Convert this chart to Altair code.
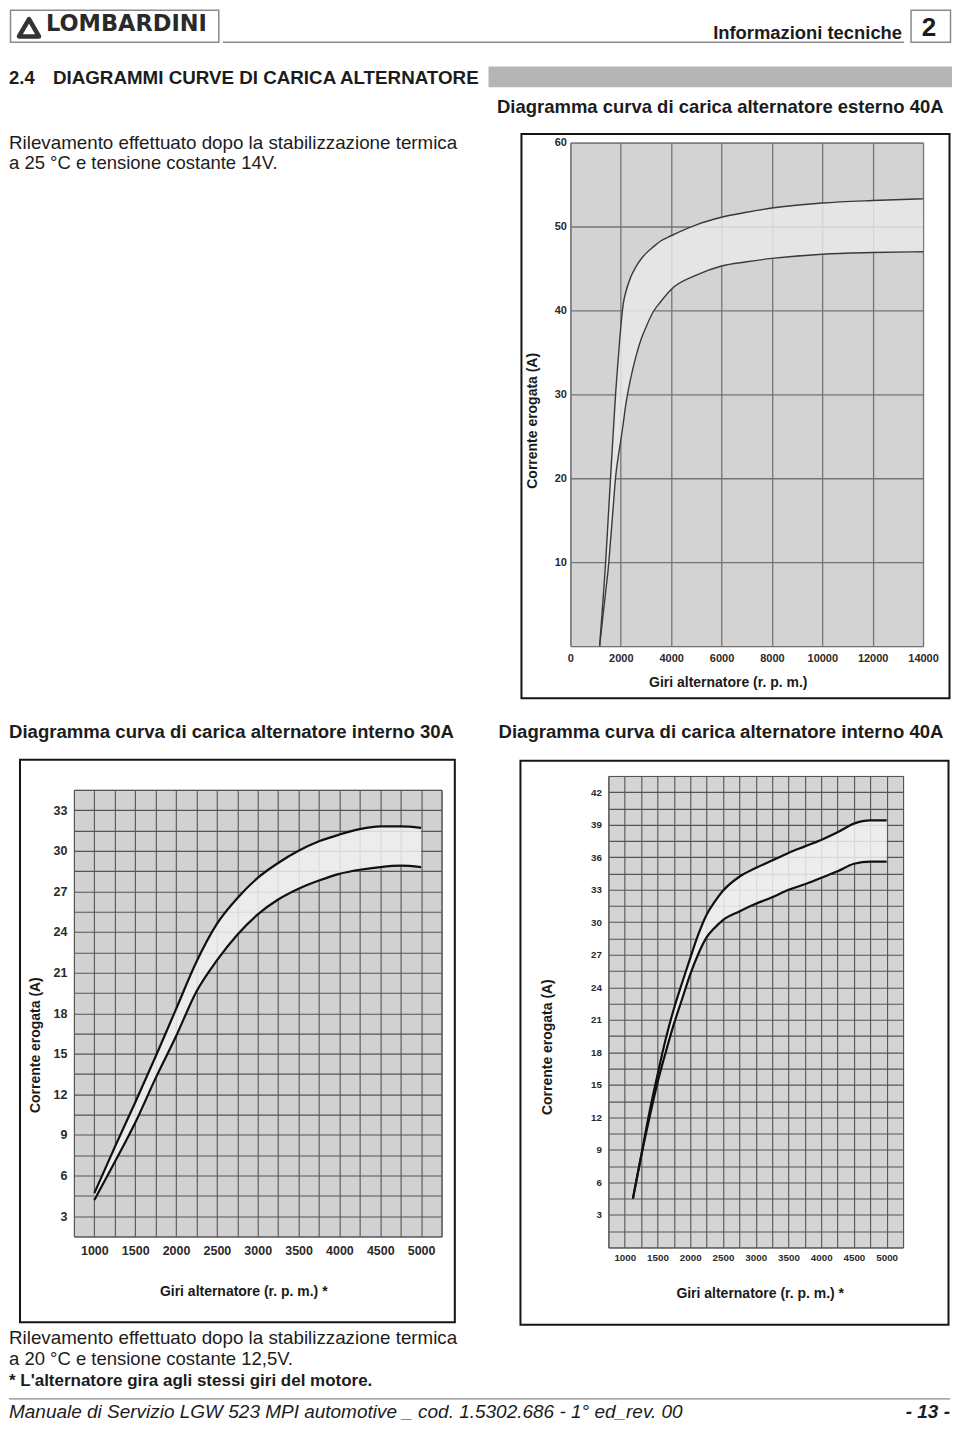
import altair as alt
import pandas as pd

FONT = "Liberation Sans"

# ---------------- data ----------------
# Diagramma esterno 40A
TOP_RPM = [1160, 1300, 1400, 1500, 1600, 1700, 1800, 1900, 2000, 2100, 2200, 2400, 2600,
           2800, 3000, 3300, 3600, 4000, 5000, 6000, 7000, 8000, 10000, 12000, 14000]
TOP_UPPER = [0, 5.7, 10.0, 15.2, 20.4, 25.4, 30.3, 34.3, 38.0, 40.8, 42.2, 44.0, 45.2,
             46.1, 46.8, 47.6, 48.3, 48.9, 50.2, 51.1, 51.7, 52.2, 52.8, 53.1, 53.3]
TOP_LOWER = [0, 3.8, 6.5, 9.2, 12.8, 16.6, 20.3, 22.6, 24.5, 26.6, 28.8, 32.0, 34.5,
             36.5, 38.0, 39.9, 41.1, 42.5, 44.2, 45.3, 45.8, 46.2, 46.7, 46.9, 47.0]
TOP_X_TICKS = [0, 2000, 4000, 6000, 8000, 10000, 12000, 14000]
TOP_Y_TICKS = [0, 10, 20, 30, 40, 50, 60]

# Diagramma interno 30A
BL_RPM = [1000, 1250, 1500, 1750, 2000, 2250, 2500, 2750, 3000, 3250, 3500, 3750, 4000,
          4250, 4500, 4750, 5000]
BL_UPPER = [4.7, 8.1, 11.4, 14.8, 18.3, 21.8, 24.6, 26.5, 28.0, 29.1, 30.0, 30.7, 31.2,
            31.6, 31.8, 31.8, 31.7]
BL_LOWER = [4.2, 7.0, 9.9, 13.2, 16.3, 19.6, 21.9, 23.8, 25.3, 26.4, 27.2, 27.8, 28.3,
            28.6, 28.8, 28.9, 28.8]

# Diagramma interno 40A
BR_RPM = [1125, 1250, 1375, 1500, 1625, 1750, 1875, 2000, 2125, 2250, 2375, 2500, 2750,
          3000, 3250, 3500, 3750, 4000, 4250, 4500, 4750, 5000]
BR_UPPER = [4.5, 8.4, 12.4, 15.9, 19.2, 22.0, 24.4, 26.7, 28.9, 30.7, 31.9, 32.9, 34.2,
            35.0, 35.7, 36.4, 37.0, 37.6, 38.3, 39.1, 39.4, 39.4]
BR_LOWER = [4.5, 8.4, 11.9, 15.2, 18.0, 20.6, 22.9, 25.2, 27.1, 28.6, 29.5, 30.2, 31.0,
            31.7, 32.3, 33.0, 33.5, 34.1, 34.7, 35.4, 35.6, 35.6]

BOTTOM_X_GRID = list(range(750, 5251, 250))
BL_Y_GRID = [i * 1.5 for i in range(1, 24)]
BR_Y_GRID = [i * 1.5 for i in range(0, 30)]

X_TITLE_TOP = "Giri alternatore (r. p. m.)"
X_TITLE_BOTTOM = "Giri alternatore (r. p. m.) *"
Y_TITLE = "Corrente erogata (A)"

ONE = pd.DataFrame({"k": [0]})
W = 944  # usable width of the page body


def panel(rpm, upper, lower, xdom, ydom, xvals, yvals, xexpr, yexpr, w, h, xtitle,
          xt, yt, frame, lab_size, xpad, ypad, bg, grid_color, grid_w,
          line_color, line_w, band_color):
    df = pd.DataFrame({"rpm": rpm, "upper": upper, "lower": lower})
    xs = alt.Scale(domain=xdom, nice=False, zero=False)
    ys = alt.Scale(domain=ydom, nice=False, zero=False)
    common = dict(grid=True, gridColor=grid_color, gridWidth=grid_w, gridOpacity=1,
                  domain=False, ticks=False, tickSize=0, labelFont=FONT,
                  labelFontWeight="bold", labelFontSize=lab_size, labelColor="#2a2a2a",
                  labelOverlap=False, labelBound=False, labelFlush=False,
                  titleFont=FONT, titleFontWeight="bold", titleFontSize=14,
                  titleColor="#1a1a1a")
    xaxis = alt.Axis(values=xvals, labelExpr=xexpr, labelPadding=xpad, title=xtitle,
                     titleX=xt[0], titleY=xt[1], titleAlign="center",
                     titleBaseline="alphabetic", **common)
    yaxis = alt.Axis(values=yvals, labelExpr=yexpr, labelPadding=ypad, title=Y_TITLE,
                     titleX=yt[0], titleY=yt[1], titleAngle=270, titleAlign="center",
                     titleBaseline="middle", **common)
    xenc = alt.X("rpm:Q", scale=xs, axis=xaxis)
    base = alt.Chart(df)
    area = base.mark_area(color=band_color, opacity=0.85, interpolate="monotone").encode(
        x=xenc, y=alt.Y("upper:Q", scale=ys, axis=yaxis), y2="lower:Q")
    up = base.mark_line(color=line_color, strokeWidth=line_w, interpolate="monotone").encode(
        x=xenc, y=alt.Y("upper:Q", scale=ys, axis=yaxis))
    lo = base.mark_line(color=line_color, strokeWidth=line_w, interpolate="monotone").encode(
        x=xenc, y=alt.Y("lower:Q", scale=ys, axis=yaxis))
    box = alt.Chart(ONE).mark_rect(fillOpacity=0, stroke="#151515", strokeWidth=2).encode(
        x=alt.value(frame[0]), x2=alt.value(frame[1]),
        y=alt.value(frame[2]), y2=alt.value(frame[3]))
    return alt.layer(box, area, up, lo).properties(
        width=w, height=h,
        view=alt.ViewBackground(fill=bg, stroke=grid_color, strokeWidth=1),
    )


top = panel(TOP_RPM, TOP_UPPER, TOP_LOWER, [0, 14000], [0, 60], TOP_X_TICKS, TOP_Y_TICKS,
            "format(datum.value, 'd')",
            "datum.value == 0 ? '' : format(datum.value, 'd')",
            353, 504, X_TITLE_TOP, (157.5, 40), (-38, 278), (-49, 379.5, -8.7, 556.3),
            11, 6, 4, "#d3d3d3", "#747474", 1.3, "#3a3a3a", 1.4, "#e8e8e8")

bl = panel(BL_RPM, BL_UPPER, BL_LOWER, [750, 5250], [1.5, 34.5], BOTTOM_X_GRID, BL_Y_GRID,
           "datum.value % 500 == 0 ? format(datum.value, 'd') : ''",
           "datum.value % 3 == 0 ? format(datum.value, 'd') : ''",
           368, 447, X_TITLE_BOTTOM, (169.5, 59), (-38, 255), (-54, 381.3, -30.3, 533),
           12.5, 8.5, 7, "#d1d1d1", "#555555", 1.1, "#101010", 2.2, "#f1f1f1")

br = panel(BR_RPM, BR_UPPER, BR_LOWER, [750, 5250], [0, 43.5], BOTTOM_X_GRID, BR_Y_GRID,
           "datum.value % 500 == 0 ? format(datum.value, 'd') : ''",
           "datum.value > 0 && datum.value % 3 == 0 ? format(datum.value, 'd') : ''",
           295, 472, X_TITLE_BOTTOM, (151.5, 50), (-60.5, 271), (-88, 340.5, -15.3, 549.3),
           9.8, 4.8, 7, "#d4d4d4", "#555555", 1.1, "#101010", 2.2, "#f1f1f1")


# ---------------- page texts and decorations ----------------
def text_mark(s, x, y, size, weight="normal", style="normal", align="left",
              font=FONT, color="#1c1c1c"):
    return alt.Chart(ONE).mark_text(
        align=align, baseline="alphabetic", font=font, fontSize=size,
        fontWeight=weight, fontStyle=style, color=color,
    ).encode(x=alt.value(x), y=alt.value(y), text=alt.value(s))


def outline(x0, x1, y0, y1, stroke, sw):
    return alt.Chart(ONE).mark_rect(fillOpacity=0, stroke=stroke, strokeWidth=sw).encode(
        x=alt.value(x0), x2=alt.value(x1), y=alt.value(y0), y2=alt.value(y1))


def hrule(x0, x1, y, color, sw):
    return alt.Chart(ONE).mark_rule(color=color, strokeWidth=sw).encode(
        x=alt.value(x0), x2=alt.value(x1), y=alt.value(y))


def blank(w, h):
    # white rectangle that fixes the exact size of a layout cell
    return alt.Chart(ONE).mark_rect(fill="white", strokeWidth=0).encode(
        x=alt.value(0), x2=alt.value(w), y=alt.value(0), y2=alt.value(h))


def cell(w, h, *items):
    return alt.layer(blank(w, h), *items).properties(width=w, height=h)


# row 1: header
row1 = cell(
    W, 123,
    outline(1.5, 210, 1.5, 33.5, "#8a8a8a", 1.5),
    alt.Chart(ONE).mark_point(shape="triangle-up", filled=False, size=400, strokeWidth=4.5,
                              color="#333333", opacity=1, strokeJoin="round").encode(
        x=alt.value(20), y=alt.value(19)),
    text_mark("LOMBARDINI", 37, 22, 22.5, weight="bold", font="DejaVu Sans", color="#2a2a2a"),
    hrule(214, 896, 33.5, "#8a8a8a", 1.5),
    text_mark("Informazioni tecniche", 894, 30.5, 18.4, weight="bold", align="right"),
    outline(903, 942.5, 1.5, 33.5, "#8a8a8a", 1.5),
    text_mark("2", 921, 27.5, 26, weight="bold", align="center"),
    alt.Chart(ONE).mark_rect(fill="#b5b5b5", strokeWidth=0).encode(
        x=alt.value(480), x2=alt.value(W), y=alt.value(57.7), y2=alt.value(78.7)),
    text_mark("2.4", 0, 75.3, 18.5, weight="bold"),
    text_mark("DIAGRAMMI CURVE DI CARICA ALTERNATORE", 44, 75.3, 18.8, weight="bold"),
    text_mark("Diagramma curva di carica alternatore esterno 40A", 712, 104.3, 18.5,
              weight="bold", align="center"),
)

# row 2: paragraph + top chart
para = cell(
    511, 50,
    text_mark("Rilevamento effettuato dopo la stabilizzazione termica", 0, 6, 18.8),
    text_mark("a 25 °C e tensione costante 14V.", 0, 26, 18.5),
)
row2 = alt.hconcat(para, top, spacing=0, bounds="full")

# row 3: titles of the two lower charts
row3 = cell(
    W, 58,
    text_mark("Diagramma curva di carica alternatore interno 30A", 0, 38, 18.6, weight="bold"),
    text_mark("Diagramma curva di carica alternatore interno 40A", 490, 38, 18.6, weight="bold"),
)

# row 4: the two lower charts (left one sits 14 px lower)
left_col = alt.vconcat(cell(368, 14), bl, spacing=0, bounds="flush")
row4 = alt.hconcat(cell(9, 500), left_col, cell(62, 500), br, spacing=0, bounds="full")

# row 5: notes and footer
row5 = cell(
    W, 95,
    text_mark("Rilevamento effettuato dopo la stabilizzazione termica", 0, 18, 18.8),
    text_mark("a 20 °C e tensione costante 12,5V.", 0, 39, 18.5),
    text_mark("* L'alternatore gira agli stessi giri del motore.", 0, 60, 17, weight="bold"),
    hrule(0, 942, 72.5, "#8a8a8a", 1.2),
    text_mark("Manuale di Servizio LGW 523 MPI automotive _ cod. 1.5302.686 - 1° ed_rev. 00",
              0, 91.3, 19, style="italic"),
    text_mark("- 13 -", 942, 91.3, 19, weight="bold", style="italic", align="right"),
)

chart = alt.vconcat(
    row1, row2, row3, row4, row5, spacing=0, bounds="full",
).properties(padding=0, background="white").configure(font=FONT).configure_view(strokeWidth=0)

chart.save("out.html", embed_options={"renderer": "svg", "actions": False})
